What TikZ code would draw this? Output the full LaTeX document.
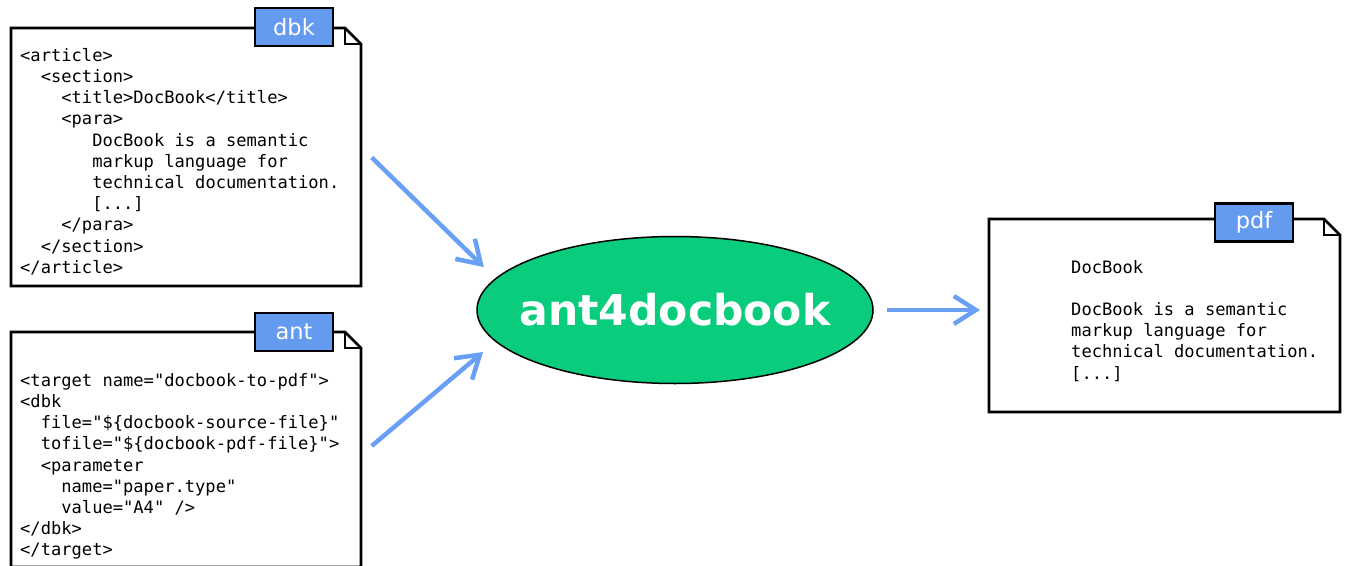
\documentclass[tikz,border=0pt]{standalone}
\usepackage{fontspec}
\usetikzlibrary{shapes.geometric,arrows.meta,calc}
\newfontfamily\codefont{DejaVu Sans Mono}
\newfontfamily\tabfont{DejaVu Sans}
\newfontfamily\toolfont{DejaVu Sans Bold}
\definecolor{tabblue}{RGB}{100,155,240}
\definecolor{arrowblue}{RGB}{105,160,245}
\definecolor{toolgreen}{RGB}{10,204,125}
\newcommand\ind[1]{\phantom{#1}}
\begin{document}
\begin{tikzpicture}[x=1pt,y=-1pt,
  doc/.style={minimum width=350pt, inner sep=0pt, outer sep=0pt},
  docline/.style={line width=2.8pt, line join=miter},
  foldline/.style={line width=1.2pt},
  code/.style={font=\codefont\fontsize{17.1}{21.2}\selectfont, align=left, inner sep=0pt, anchor=north west},
  tab/.style={draw, line width=2.8pt, fill=tabblue, text=white, minimum width=78pt, minimum height=38pt, inner sep=0pt, font=\tabfont\fontsize{22.5}{26}\selectfont},
  tool/.style={ellipse, draw, line width=1.5pt, fill=toolgreen, minimum width=396pt, minimum height=147pt, inner sep=0pt, text=white, font=\toolfont\fontsize{42.5}{48}\selectfont},
  flow/.style={draw=arrowblue, line width=4.5pt, -{Straight Barb[length=22pt, width=28pt]}}
]
\useasboundingbox (0,0) rectangle (1346,565);

% documents
\node[doc, minimum height=258pt] (dbkdoc) at (186,157) {};
\node[doc, minimum height=235pt] (antdoc) at (186,449.5) {};
\node[doc, minimum width=351pt, minimum height=193pt] (pdfdoc) at (1164.5,315.5) {};
\foreach \n in {dbkdoc,antdoc,pdfdoc}{
  \draw[docline] (\n.north west) -- ($(\n.north east)+(-16,0)$) -- ($(\n.north east)+(0,16)$) -- (\n.south east) -- (\n.south west) -- cycle;
  \draw[foldline] ($(\n.north east)+(-16,0)$) |- ($(\n.north east)+(0,16)$);
}

% tabs
\node[tab] (dbktab) at (294,27) {dbk};
\node[tab] (anttab) at (294,332) {ant};
\node[tab] (pdftab) at (1254,222.5) {pdf};

% code
\node[code] (dbkcode) at (20,48) {<article>\\
\ind{xx}<section>\\
\ind{xxxx}<title>DocBook</title>\\
\ind{xxxx}<para>\\
\ind{xxxxxxx}DocBook is a semantic\\
\ind{xxxxxxx}markup language for\\
\ind{xxxxxxx}technical documentation.\\
\ind{xxxxxxx}[...]\\
\ind{xxxx}</para>\\
\ind{xx}</section>\\
</article>};

\node[code] (antcode) at (20,373) {<target name="docbook-to-pdf">\\
<dbk\\
\ind{xx}file="\$\{docbook-source-file\}"\\
\ind{xx}tofile="\$\{docbook-pdf-file\}">\\
\ind{xx}<parameter\\
\ind{xxxx}name="paper.type"\\
\ind{xxxx}value="A4" />\\
</dbk>\\
</target>};

\node[code] (pdfcode) at (1071,260) {DocBook\\
\mbox{}\\
DocBook is a semantic\\
markup language for\\
technical documentation.\\
{}[...]};

% tool
\node[tool] (tool) at (675,310) {\makebox[0pt]{ant4docbook}};

% connectors
\draw[flow, shorten <=15pt, shorten >=16pt] ($(dbkdoc.east)+(0,-10)$) -- (tool.170);
\draw[flow, shorten <=14pt, shorten >=16pt] ($(antdoc.east)+(0,5.5)$) -- (tool.190);
\draw[flow, shorten <=13pt, shorten >=9pt] (tool.east) -- (tool.east -| pdfdoc.west);
\end{tikzpicture}
\end{document}
